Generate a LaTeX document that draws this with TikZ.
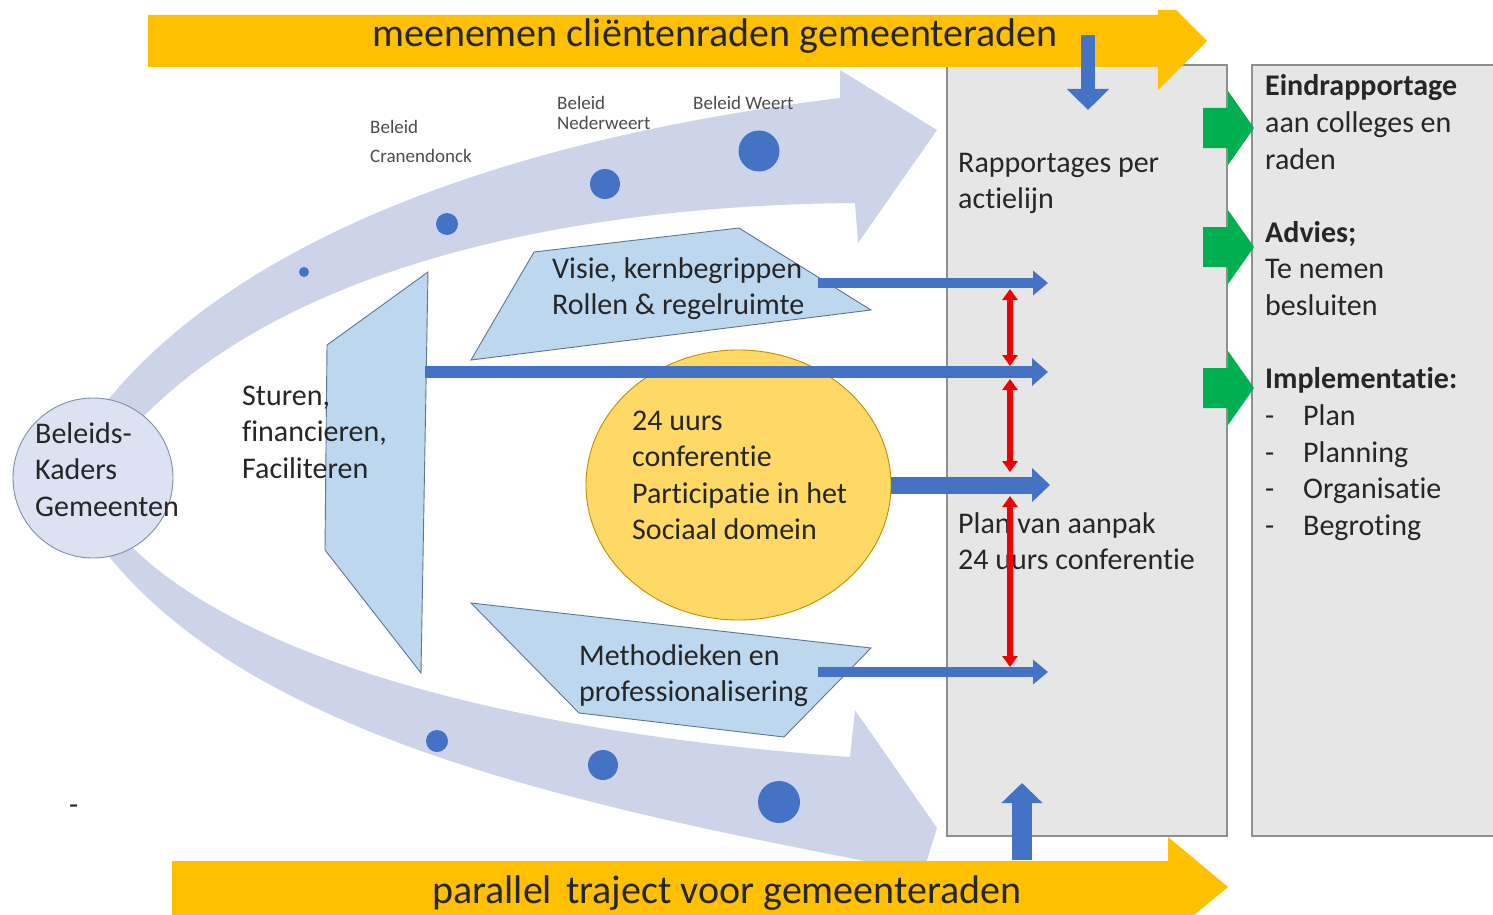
\documentclass[tikz,border=0pt]{standalone}
\usepackage{fontspec}
\setmainfont{Carlito}[RawFeature={-liga;-clig;-calt;-dlig}]
\usetikzlibrary{arrows.meta,shapes.geometric}
\definecolor{lav}{HTML}{CDD4EA}
\definecolor{lavc}{HTML}{DCE2F2}
\definecolor{lavedge}{HTML}{7F8FA9}
\definecolor{ltblue}{HTML}{BDD7EE}
\definecolor{edgeb}{HTML}{5F7594}
\definecolor{gold}{HTML}{FFC000}
\definecolor{yel}{HTML}{FFD966}
\definecolor{yeld}{HTML}{BF9000}
\definecolor{bl}{HTML}{4472C4}
\definecolor{grn}{HTML}{00B050}
\definecolor{gbox}{HTML}{E7E6E6}
\definecolor{gedge}{HTML}{8F8F8F}
\definecolor{txtc}{HTML}{262626}
\definecolor{redc}{HTML}{F00000}
\newcommand{\ml}[1]{\begin{tabular}[t]{@{}l@{}}#1\end{tabular}}
\begin{document}
\begin{tikzpicture}[x=1pt,y=-1pt,
 txt/.style={inner sep=0pt,anchor=base west,text=txtc,font=\fontsize{30}{36.6}\selectfont},
 smalltxt/.style={inner sep=0pt,anchor=base west,text=black!70,font=\fontsize{19}{20}\selectfont},
 bigtxt/.style={inner sep=0pt,anchor=base west,text=txtc,font=\fontsize{40}{48}\selectfont},
 bluedot/.style={circle,fill=bl,inner sep=0pt,minimum size=#1},
 band/.style={fill=lav},
 trap/.style={fill=ltblue,draw=edgeb,line width=0.9pt},
 greybox/.style={rectangle,fill=gbox,draw=gedge,line width=1.2pt,inner sep=0pt},
 barrow/.style={draw=bl,line width=#1},
 redarrow/.style={draw=redc,line width=6pt,{Triangle[width=15pt,length=11pt]}-{Triangle[width=15pt,length=11pt]}},
 greenarrow/.style={fill=grn},
]
\useasboundingbox (0,0) rectangle (1493,915);
\fill[white] (0,0) rectangle (1493,915);

% curved lavender arrows
\fill[band] (100,410) .. controls (200,280) and (420,150) .. (840,98) -- (840,70) -- (937,130) -- (858,243) -- (855,203)
  .. controls (600,205) and (300,255) .. (140,420) -- cycle;
\fill[band] (125,540) .. controls (230,650) and (480,730) .. (850,757) -- (855,710) -- (937,828) -- (905,930) -- (870,862)
  .. controls (550,800) and (240,730) .. (100,545) -- cycle;

% dots
\node[bluedot=10pt] (d1) at (304,272) {};
\node[bluedot=22pt] (d2) at (447,224) {};
\node[bluedot=30pt] (d3) at (605,184) {};
\node[bluedot=41pt] (d4) at (759,151) {};
\node[bluedot=22pt] (d5) at (437,741) {};
\node[bluedot=30pt] (d6) at (603,765) {};
\node[bluedot=42pt] (d7) at (779,802) {};

% small labels
\node[smalltxt] (lc) at (370,133) {\ml{Beleid\\[9pt]Cranendonck}};
\node[smalltxt] (ln) at (557,110) {\ml{Beleid\\Nederweert}};
\node[smalltxt] (lw) at (693,110) {Beleid Weert};

% circle
\node[circle,draw=lavedge,fill=lavc,line width=0.9pt,minimum size=160pt,inner sep=0pt] (kader) at (93,478) {};

% trapezoids
\draw[trap] (327,345) -- (428,272) -- (421,673) -- (325,550) -- cycle;
\draw[trap] (534,252) -- (739,228) -- (871,310) -- (471,360) -- cycle;
\draw[trap] (471,603) -- (871,648) -- (784,737) -- (579,713) -- cycle;

% ellipse
\node[ellipse,draw=yeld,fill=yel,line width=0.9pt,minimum width=305pt,minimum height=270pt,inner sep=0pt] (conf) at (738.5,485) {};

% grey boxes
\node[greybox,minimum width=280pt,minimum height=771pt] (box1) at (1087,450.5) {};
\node[greybox,minimum width=248pt,minimum height=771pt] (box2) at (1376,450.5) {};

% texts
\node[txt] (tbel) at (35,443) {\ml{Beleids-\\Kaders\\Gemeenten}};
\node[txt] (tstu) at (242,405) {\ml{Sturen,\\financieren,\\Faciliteren}};
\node[txt] (tvis) at (552,278) {\ml{Visie, kernbegrippen\\Rollen \& regelruimte}};
\node[txt] (tconf) at (632,430) {\ml{24 uurs\\conferentie\\Participatie in het\\Sociaal domein}};
\node[txt] (tmeth) at (579,665) {\ml{Methodieken en\\professionalisering}};
\node[txt] (trap) at (958,172) {\ml{Rapportages per\\actielijn}};
\node[txt] (tplan) at (958,533) {\ml{Plan van aanpak\\24 uurs conferentie}};
\node[txt] (tright) at (1265,96) {\ml{\textbf{Eindrapportage}\\aan colleges en\\raden\\ \\\textbf{Advies;}\\Te nemen\\besluiten\\ \\\textbf{Implementatie:}\\\makebox[38pt][l]{-}Plan\\\makebox[38pt][l]{-}Planning\\\makebox[38pt][l]{-}Organisatie\\\makebox[38pt][l]{-}Begroting}};
\node[txt] (tdash) at (69,814) {-};

% yellow bars
\fill[gold] (148,15) -- (1158,15) -- (1158,10) -- (1176,10) -- (1207,41) -- (1158,90) -- (1158,67) -- (148,67) -- cycle;
\fill[gold] (172,861) -- (1168,861) -- (1168,837) -- (1228,887) -- (1194,915) -- (172,915) -- cycle;
\node[bigtxt] (ttop) at (372,47) {meenemen cliëntenraden gemeenteraden};
\node[bigtxt] (tbot) at (432,903) {parallel\hspace{0.35em}traject voor gemeenteraden};

% coordinates for connectors
\coordinate (vs) at (818,283);
\coordinate (ve) at (1048,283);
\coordinate (ss) at (425,372);
\coordinate (se) at (1048,372);
\coordinate (ce) at (1050,485);
\coordinate (ms) at (818,672);
\coordinate (me) at (1048,672);
\coordinate (ds) at (1088,35);
\coordinate (de) at (1088,110);
\coordinate (us) at (1022,860);
\coordinate (ue) at (1022,783);
\coordinate (r1a) at (1010,289);
\coordinate (r1b) at (1010,366);
\coordinate (r2a) at (1010,379);
\coordinate (r2b) at (1010,472);
\coordinate (r3a) at (1010,496);
\coordinate (r3b) at (1010,667);

% blue arrows
\draw[barrow=10pt,-{Triangle[width=24pt,length=15pt]}] (vs) -- (ve);
\draw[barrow=12pt,-{Triangle[width=27pt,length=16pt]}] (ss) -- (se);
\draw[barrow=17pt,-{Triangle[width=33pt,length=18pt]}] (conf.east) -- (ce);
\draw[barrow=10pt,-{Triangle[width=24pt,length=15pt]}] (ms) -- (me);
\draw[barrow=14pt,-{Triangle[width=41pt,length=21pt]}] (ds) -- (de);
\draw[barrow=20pt,-{Triangle[width=40pt,length=20pt]}] (us) -- (ue);

% red arrows
\draw[redarrow] (r1a) -- (r1b);
\draw[redarrow] (r2a) -- (r2b);
\draw[redarrow] (r3a) -- (r3b);

% green arrows
\foreach \gy in {128,247,388}{
  \fill[greenarrow] (1203,\gy-20) -- (1228,\gy-20) -- (1228,\gy-37) -- (1254,\gy) -- (1228,\gy+37) -- (1228,\gy+20) -- (1203,\gy+20) -- cycle;
}
\end{tikzpicture}
\end{document}
